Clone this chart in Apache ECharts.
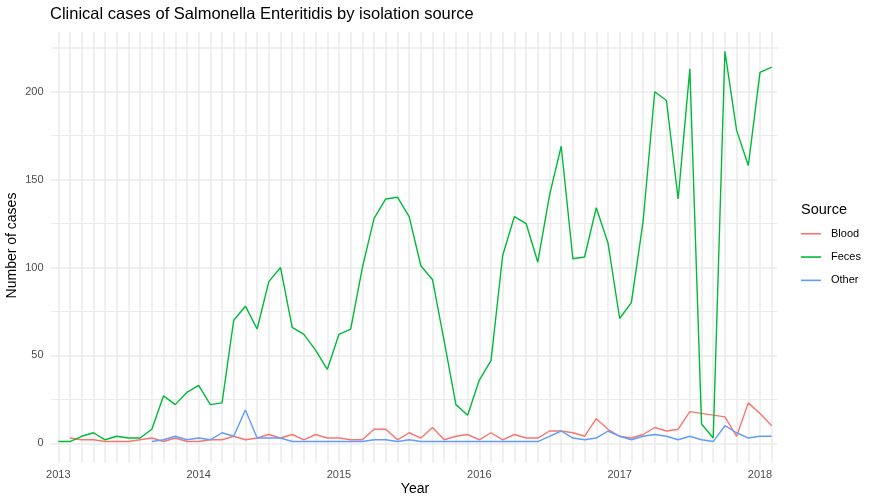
<!DOCTYPE html>
<html>
<head>
<meta charset="utf-8">
<script src="https://cdn.jsdelivr.net/npm/echarts@6/dist/echarts.min.js"></script>
<style>
  html, body { margin: 0; padding: 0; background: #fff; }
  #chart { width: 877px; height: 504px; }
</style>
</head>
<body>
<div id="chart"></div>
<script>
// monthly counts, 2013-01 .. 2018-02
var months = [
  '2013-01','2013-02','2013-03','2013-04','2013-05','2013-06','2013-07','2013-08','2013-09','2013-10','2013-11','2013-12',
  '2014-01','2014-02','2014-03','2014-04','2014-05','2014-06','2014-07','2014-08','2014-09','2014-10','2014-11','2014-12',
  '2015-01','2015-02','2015-03','2015-04','2015-05','2015-06','2015-07','2015-08','2015-09','2015-10','2015-11','2015-12',
  '2016-01','2016-02','2016-03','2016-04','2016-05','2016-06','2016-07','2016-08','2016-09','2016-10','2016-11','2016-12',
  '2017-01','2017-02','2017-03','2017-04','2017-05','2017-06','2017-07','2017-08','2017-09','2017-10','2017-11','2017-12',
  '2018-01','2018-02'
];
var sources = ['Blood', 'Feces', 'Other'];
var colors = ['#F8766D', '#00BA38', '#619CFF'];

var blood = [
  null, 3, 2, 2, 1, 1, 1, 2, 3, 1, 3, 1,
  1, 2, 2, 4, 2, 3, 5, 3, 5, 2, 5, 3,
  3, 2, 2, 8, 8, 2, 6, 3, 9, 2, 4, 5,
  2, 6, 2, 5, 3, 3, 7, 7, 6, 4, 14, 8,
  4, 3, 5, 9, 7, 8, 18, 17, 16, 15, 4, 23,
  17, 10
];
var feces = [
  1, 1, 4, 6, 2, 4, 3, 3, 8, 27, 22, 29,
  33, 22, 23, 70, 78, 65, 92, 100, 66, 62, 53, 42,
  62, 65, 100, 128, 139, 140, 129, 101, 93, 58, 22, 16,
  36, 47, 107, 129, 125, 103, 141, 169, 105, 106, 134, 114,
  71, 80, 126, 200, 195, 139, 213, 11, 3, 223, 178, 158,
  211, 214
];
var other = [
  null, null, null, null, null, null, null, null, 1, 2, 4, 2,
  3, 2, 6, 4, 19, 3, 3, 3, 1, 1, 1, 1,
  1, 1, 1, 2, 2, 1, 2, 1, 1, 1, 1, 1,
  1, 1, 1, 1, 1, 1, 4, 7, 3, 2, 3, 7,
  4, 2, 4, 5, 4, 2, 4, 2, 1, 10, 6, 3,
  4, 4
];
var seriesValues = [blood, feces, other];

var FONT = 'Liberation Sans, Arial, Helvetica, sans-serif';
var GRID = '#EBEBEB';
// panel keeps ggplot's 5% headroom around 0..223
var yMin = -11.15, yMax = 234.15;

var chart = echarts.init(document.getElementById('chart'));
chart.setOption({
  animation: false,
  color: colors,
  textStyle: { fontFamily: FONT },
  title: [{
    text: 'Clinical cases of Salmonella Enteritidis by isolation source',
    left: 50, top: 5.5, padding: 0,
    textStyle: { fontSize: 16.5, fontWeight: 'normal', color: '#000', fontFamily: FONT, lineHeight: 18 }
  }, {
    text: 'Source',
    left: 801, top: 200.5, padding: 0,
    textStyle: { fontSize: 14.5, fontWeight: 'normal', color: '#000', fontFamily: FONT, lineHeight: 18 }
  }],
  legend: {
    orient: 'vertical',
    left: 801, top: 227,
    padding: 0,
    icon: 'rect',
    itemWidth: 20, itemHeight: 1.6,
    itemGap: 9.8,
    data: sources,
    textStyle: { fontSize: 11, color: '#000', fontFamily: FONT, lineHeight: 13.5, padding: [0, 0, 0, 5] }
  },
  grid: [
    // background grid: horizontal lines + y labels
    { left: 51, right: 99, top: 47.7, bottom: 60.7, outerBoundsMode: 'none' },
    // data panel
    { left: 58.3, right: 105.3, top: 31.7, bottom: 41.1, outerBoundsMode: 'none' }
  ],
  xAxis: [{
    gridIndex: 0, type: 'value', show: false, min: 0, max: 1
  }, {
    gridIndex: 1,
    type: 'category',
    data: months,
    boundaryGap: false,
    axisLine: { show: false },
    axisTick: { show: false },
    splitLine: { show: true, interval: 0, lineStyle: { color: GRID, width: 1.5 } },
    axisLabel: {
      interval: function (i, v) { return v.slice(5) === '01'; },
      formatter: function (v) { return v.slice(0, 4); },
      color: '#4D4D4D', fontSize: 11, margin: 6.5, fontFamily: FONT
    },
    name: 'Year',
    nameLocation: 'middle',
    nameGap: 19.5,
    nameMoveOverlap: false,
    nameTextStyle: { fontSize: 14, color: '#000', fontFamily: FONT }
  }],
  yAxis: [{
    gridIndex: 0,
    type: 'value',
    min: 0, max: 225,
    axisLine: { show: false },
    axisTick: { show: false },
    minorTick: { show: false, splitNumber: 2 },
    splitLine: { show: true, lineStyle: { color: GRID, width: 1.5 } },
    minorSplitLine: { show: true, lineStyle: { color: GRID, width: 1 } },
    axisLabel: {
      formatter: function (v) { return v % 50 === 0 ? String(v) : ''; },
      color: '#4D4D4D', fontSize: 11, margin: 7.5, fontFamily: FONT
    },
    name: 'Number of cases',
    nameLocation: 'middle',
    nameGap: 32,
    nameMoveOverlap: false,
    nameTextStyle: { fontSize: 14, color: '#000', fontFamily: FONT }
  }, {
    gridIndex: 1, type: 'value', show: false, min: yMin, max: yMax
  }],
  series: sources.map(function (name, i) {
    return {
      name: name,
      type: 'line',
      xAxisIndex: 1,
      yAxisIndex: 1,
      data: seriesValues[i],
      showSymbol: false,
      symbol: 'none',
      lineStyle: { width: 1.4, color: colors[i] },
      itemStyle: { color: colors[i] }
    };
  })
});
</script>
</body>
</html>
